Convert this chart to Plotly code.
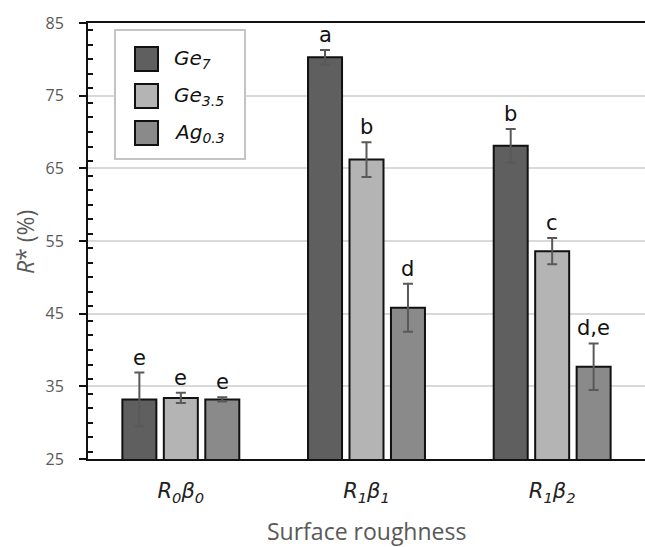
import plotly.graph_objects as go

categories = ["<i>R<sub>0</sub>β<sub>0</sub></i>", "<i>R<sub>1</sub>β<sub>1</sub></i>", "<i>R<sub>1</sub>β<sub>2</sub></i>"]
series_names = ["<i>Ge<sub>7</sub></i>", "<i>Ge<sub>3.5</sub></i>", "<i>Ag<sub>0.3</sub></i>"]
ge7 = [33.2, 80.3, 68.1]
ge7_err = [3.7, 1.0, 2.3]
ge35 = [33.4, 66.2, 53.6]
ge35_err = [0.7, 2.4, 1.8]
ag03 = [33.2, 45.8, 37.7]
ag03_err = [0.3, 3.3, 3.2]
ge7_letters = ["e", "a", "b"]
ge35_letters = ["e", "b", "c"]
ag03_letters = ["e", "d", "d,e"]
colors = ["#5f5f5f", "#b4b4b4", "#8a8a8a"]
x_title = "Surface roughness"
y_title = "<i>R</i>* (%)"

values = [ge7, ge35, ag03]
errors = [ge7_err, ge35_err, ag03_err]
letters = [ge7_letters, ge35_letters, ag03_letters]

W, H = 645, 547
L, R, T, B = 88, 0, 23, 88
BARGAP = 0.33

fig = go.Figure()
for name, v, e, c in zip(series_names, values, errors, colors):
    fig.add_trace(go.Bar(
        x=list(range(len(categories))), y=v, name=name,
        marker=dict(color=c, line=dict(color="#111111", width=2)),
        error_y=dict(type="data", array=e, color="#595959", thickness=2, width=5),
        showlegend=False,
    ))

slot = (1 - BARGAP) / len(values)
ann = []
for k, (v, e, lt) in enumerate(zip(values, errors, letters)):
    off = (k - (len(values) - 1) / 2) * slot
    for i in range(len(categories)):
        ann.append(dict(x=i + off, y=v[i] + e[i], xref="x", yref="y", text=lt[i],
                        showarrow=False, yanchor="bottom", yshift=1,
                        font=dict(family="DejaVu Sans", size=21, color="#111111")))

pw = W - L - R
ph = H - T - B
def px(x):
    return (x - L) / pw
def py(y):
    return (H - B - y) / ph

shapes = []
# custom legend box
shapes.append(dict(type="rect", xref="paper", yref="paper",
                   x0=px(115), x1=px(245), y0=py(159), y1=py(30),
                   line=dict(color="#c4c4c4", width=2), fillcolor="white", layer="above"))
leg_y = [59, 96, 133]
for name, c, yc in zip(series_names, colors, leg_y):
    shapes.append(dict(type="rect", xref="paper", yref="paper",
                       x0=px(135), x1=px(158), y0=py(yc + 12), y1=py(yc - 12),
                       line=dict(color="#111111", width=2), fillcolor=c, layer="above"))
    ann.append(dict(x=px(172), y=py(yc), xref="paper", yref="paper", text=name,
                    showarrow=False, xanchor="left", yanchor="middle",
                    font=dict(family="DejaVu Sans", size=20, color="#111111")))

# axis titles as annotations (keeps plot area fixed)
ann.append(dict(x=0.5, y=py(531), xref="paper", yref="paper", text=x_title,
                showarrow=False, xanchor="center", yanchor="middle",
                font=dict(family="Open Sans", size=23, color="#595959")))
ann.append(dict(x=px(25), y=py(242), xref="paper", yref="paper", text=y_title,
                showarrow=False, xanchor="center", yanchor="middle", textangle=-90,
                font=dict(family="Open Sans", size=23, color="#595959")))

fig.update_layout(
    width=W, height=H,
    margin=dict(l=L, r=R, t=T, b=B),
    plot_bgcolor="white", paper_bgcolor="white",
    barmode="group", bargap=BARGAP, bargroupgap=0.18,
    annotations=ann, shapes=shapes,
    xaxis=dict(
        tickmode="array", tickvals=list(range(len(categories))), ticktext=categories,
        range=[-0.5, len(categories) - 0.5],
        showline=True, linecolor="#111111", linewidth=2, mirror=True,
        ticks="", showgrid=False, zeroline=False, automargin=False,
        tickfont=dict(family="DejaVu Sans", size=21, color="#222222"),
        ticklabelstandoff=12,
    ),
    yaxis=dict(
        range=[25, 85], tickmode="linear", tick0=25, dtick=10,
        showline=True, linecolor="#111111", linewidth=2, mirror=False,
        ticks="outside", ticklen=7, tickwidth=2, tickcolor="#111111",
        minor=dict(ticks="inside", dtick=2, ticklen=5, tickwidth=2, tickcolor="#111111", showgrid=False),
        showgrid=True, gridcolor="#d9d9d9", gridwidth=2, zeroline=False, automargin=False,
        tickfont=dict(family="Open Sans", size=16, color="#595959"),
        ticklabelstandoff=12,
    ),
)

fig.write_html("out.html")
